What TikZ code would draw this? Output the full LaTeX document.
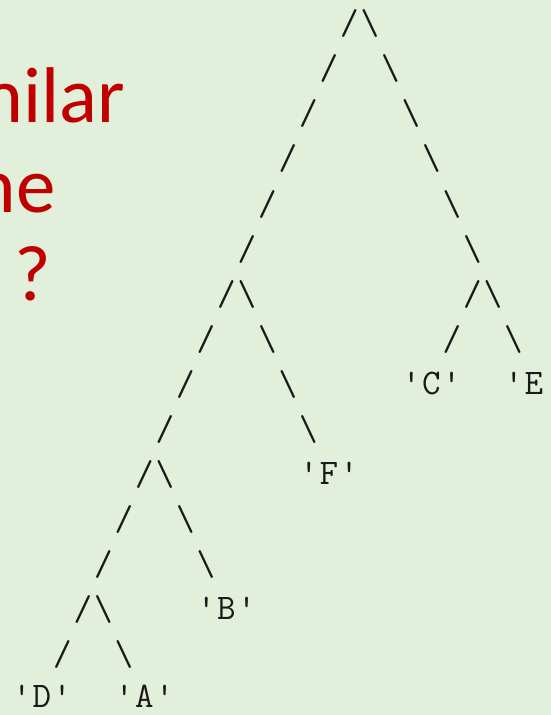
\documentclass[tikz,border=0pt]{standalone}
\usepackage{fontspec}
\newfontfamily\slidefont{Carlito}
\definecolor{slidebg}{HTML}{E2EFDA}
\definecolor{slidered}{HTML}{C00000}
\definecolor{treeink}{HTML}{1A1A1A}
\newcommand{\qlabel}[1]{'\hspace{1.6pt}#1\hspace{1.6pt}'}

\begin{document}
\begin{tikzpicture}[
  x=20.5pt, y=-45pt,
  glyph/.style={inner sep=0pt, text=treeink, font=\ttfamily\fontsize{36}{42}\selectfont},
  leaf/.style={glyph, anchor=base, yshift=-10pt},
  cut/.style={inner sep=0pt, text=slidered, font=\slidefont\fontsize{79}{90}\selectfont}
]

\useasboundingbox (-21.5pt,24pt) rectangle (529.5pt,-691pt);
\fill[slidebg] (-21.5pt,24pt) rectangle (529.5pt,-691pt);
\clip (-21.5pt,24pt) rectangle (529.5pt,-691pt);

% text cut off at the left edge of the slide
\node[cut, anchor=base east] (line1) at (103.5pt,-98pt) {milar};
\node[cut, anchor=base east] (line2) at (34.5pt,-188pt) {ne};
\node[cut, anchor=base] (line3) at (11pt,-276pt) {?};

% branches, one character per cell
\foreach \c/\r in {16/0,15/1,14/2,13/3,12/4,11/5,10/6,22/6,9/7,21/7,8/8,7/9,6/10,5/11,4/12,3/13,2/14}
  \node[glyph] (fw-\c-\r) at (\c,\r) {/};
\foreach \c/\r in {17/0,18/1,19/2,20/3,21/4,22/5,11/6,23/6,12/7,24/7,13/8,14/9,7/10,8/11,9/12,4/13,5/14}
  \node[glyph] (bw-\c-\r) at (\c,\r) {\textbackslash};

% leaves
\node[leaf] (C) at (20,8) {\qlabel{C}};
\node[leaf] (E) at (25,8) {\qlabel{E}};
\node[leaf] (F) at (15,10) {\qlabel{F}};
\node[leaf] (B) at (10,13) {\qlabel{B}};
\node[leaf] (D) at (1,14.96) {\qlabel{D}};
\node[leaf] (A) at (6,14.96) {\qlabel{A}};

\end{tikzpicture}
\end{document}
